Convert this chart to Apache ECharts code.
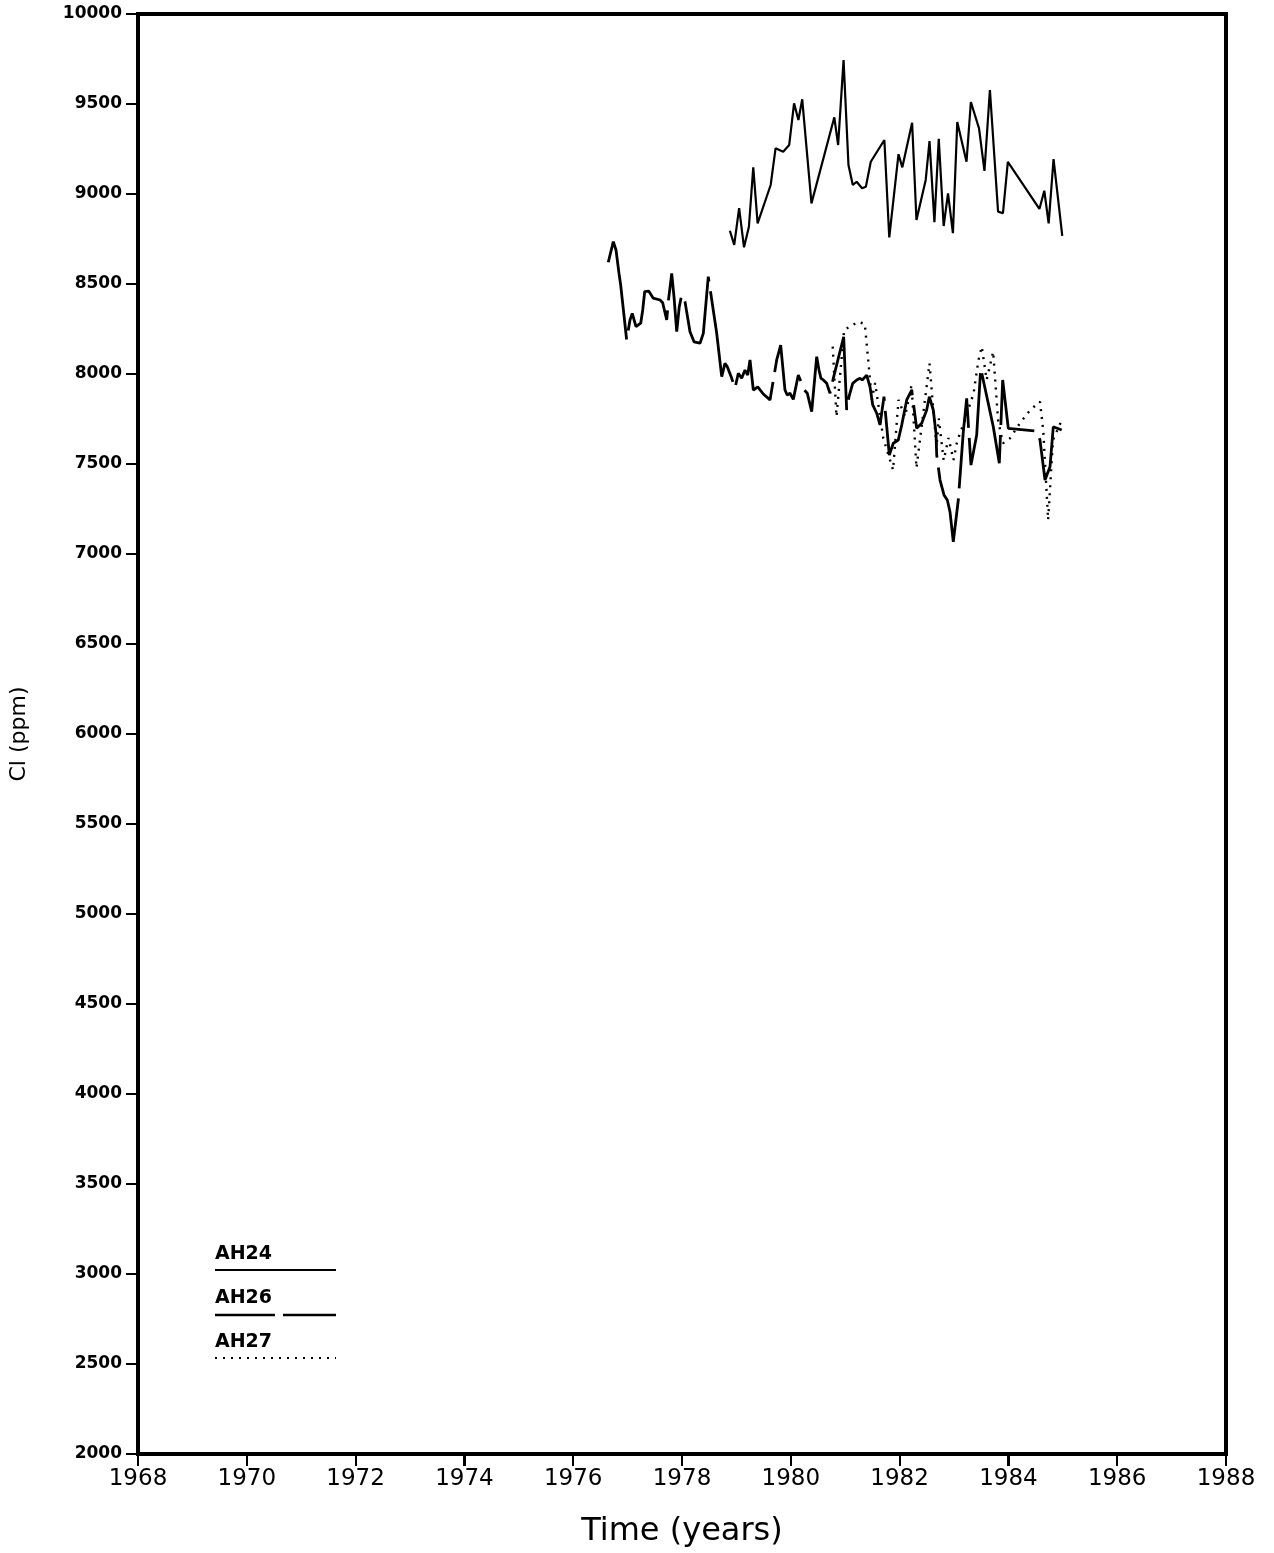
<!DOCTYPE html>
<html>
<head>
<meta charset="utf-8">
<script src="https://cdn.jsdelivr.net/npm/echarts@6/dist/echarts.min.js"></script>
<style>
html,body{margin:0;padding:0;background:#fff;}
#chart{width:1274px;height:1553px;}
</style>
</head>
<body>
<div id="chart"></div>
<script>
// ---- Data ----
const xTicks = [1968,1970,1972,1974,1976,1978,1980,1982,1984,1986,1988];
const yTicks = [2000,2500,3000,3500,4000,4500,5000,5500,6000,6500,7000,7500,8000,8500,9000,9500,10000];

const ah24Years = [1978.88,1978.96,1979.05,1979.14,1979.23,1979.31,1979.39,1979.63,1979.72,1979.86,1979.97,1980.06,1980.14,1980.21,1980.38,1980.80,1980.87,1980.97,1981.06,1981.14,1981.21,1981.31,1981.38,1981.47,1981.72,1981.81,1981.98,1982.05,1982.23,1982.31,1982.48,1982.55,1982.64,1982.72,1982.81,1982.89,1982.98,1983.06,1983.23,1983.31,1983.46,1983.56,1983.66,1983.81,1983.90,1983.99,1984.57,1984.66,1984.74,1984.83,1984.99];
const ah24Values = [8796,8717,8921,8704,8818,9148,8837,9050,9254,9235,9272,9504,9411,9526,8948,9426,9272,9744,9161,9050,9068,9032,9040,9179,9300,8759,9221,9148,9396,8856,9078,9294,8843,9306,8822,9004,8782,9400,9179,9511,9365,9128,9578,8902,8893,9179,8917,9018,8837,9194,8768];

const ah26Years = [1976.645,1976.737,1976.787,1976.842,1976.873,1976.983,1977.044,1977.086,1977.154,1977.241,1977.278,1977.314,1977.388,1977.472,1977.596,1977.645,1977.719,1977.748,1977.811,1977.853,1977.903,1977.950,1977.994,1978.055,1978.147,1978.221,1978.331,1978.392,1978.483,1978.638,1978.730,1978.790,1978.833,1978.914,1978.974,1979.035,1979.097,1979.158,1979.208,1979.250,1979.311,1979.392,1979.494,1979.618,1979.741,1979.814,1979.893,1979.936,1979.985,1980.046,1980.138,1980.200,1980.248,1980.303,1980.384,1980.476,1980.518,1980.555,1980.597,1980.660,1980.721,1980.781,1980.972,1981.027,1981.070,1981.138,1981.211,1981.272,1981.314,1981.395,1981.456,1981.506,1981.579,1981.640,1981.713,1981.811,1981.884,1981.976,1982.039,1982.131,1982.222,1982.314,1982.406,1982.498,1982.546,1982.619,1982.669,1982.682,1982.743,1982.816,1982.877,1982.926,1982.987,1983.079,1983.171,1983.233,1983.312,1983.417,1983.491,1983.722,1983.833,1983.895,1983.998,1984.520,1984.581,1984.673,1984.765,1984.825,1984.980];
const ah26Values = [8621,8735,8689,8559,8494,8189,8300,8337,8263,8282,8356,8457,8461,8421,8411,8396,8300,8402,8559,8429,8235,8374,8439,8402,8235,8179,8171,8226,8541,8226,7985,8059,8040,7976,7921,8004,7976,8022,7994,8078,7911,7929,7889,7856,8078,8161,7911,7883,7893,7859,7994,7948,7911,7893,7791,8096,8022,7976,7967,7948,7893,7976,8207,7800,7874,7948,7967,7976,7967,7994,7929,7828,7782,7717,7874,7550,7615,7633,7717,7856,7911,7698,7726,7800,7874,7800,7671,7550,7411,7328,7300,7235,7068,7300,7679,7865,7494,7661,8032,7707,7504,7967,7698,7683,7633,7411,7485,7707,7689];

const ah27Years = [1980.77,1980.84,1980.98,1981.24,1981.36,1981.42,1981.49,1981.55,1981.70,1981.88,1981.98,1982.10,1982.22,1982.31,1982.55,1982.62,1982.68,1982.72,1982.81,1982.90,1982.99,1983.05,1983.11,1983.20,1983.36,1983.45,1983.51,1983.60,1983.72,1983.81,1983.90,1984.03,1984.21,1984.40,1984.58,1984.64,1984.73,1984.82,1984.98];
const ah27Values = [8152,7763,8244,8290,8278,8087,7856,7950,7643,7467,7856,7763,7939,7478,8059,7800,7596,7754,7520,7645,7522,7615,7671,7744,7893,8078,8152,7967,8124,7744,7615,7643,7726,7800,7846,7689,7189,7633,7744];

const seriesNames = ['AH24','AH26','AH27'];

function pairs(xs, ys){ return xs.map((x,i)=>[x, ys[i]]); }

const chart = echarts.init(document.getElementById('chart'), null, {renderer:'canvas'});

const lineCommon = {type:'line', showSymbol:false, symbol:'none', smooth:false, animation:false};

const legendGraphics = [
  {type:'text', left:215, top:1245, style:{text:seriesNames[0], font:'bold 19px "DejaVu Sans"', fill:'#000'}},
  {type:'line', shape:{x1:215, y1:1270, x2:336, y2:1270}, style:{stroke:'#000', lineWidth:2}},
  {type:'text', left:215, top:1289, style:{text:seriesNames[1], font:'bold 19px "DejaVu Sans"', fill:'#000'}},
  {type:'line', shape:{x1:215, y1:1315, x2:275, y2:1315}, style:{stroke:'#000', lineWidth:2.5}},
  {type:'line', shape:{x1:283, y1:1315, x2:336, y2:1315}, style:{stroke:'#000', lineWidth:2.5}},
  {type:'text', left:215, top:1333, style:{text:seriesNames[2], font:'bold 19px "DejaVu Sans"', fill:'#000'}},
  {type:'line', shape:{x1:215, y1:1358, x2:336, y2:1358}, style:{stroke:'#000', lineWidth:2, lineDash:[2,6]}}
];

chart.setOption({
  backgroundColor:'#ffffff',
  animation:false,
  grid:{left:138, right:48, top:14, bottom:99, show:true, borderColor:'#000', borderWidth:4, backgroundColor:'transparent'},
  xAxis:{
    type:'value', min:1968, max:1988, interval:2,
    name:'Time (years)', nameLocation:'middle', nameGap:62,
    nameTextStyle:{fontFamily:'DejaVu Sans', fontSize:32, color:'#000'},
    axisLine:{show:true, onZero:false, lineStyle:{color:'#000', width:4}},
    axisTick:{show:true, inside:false, length:12, lineStyle:{color:'#000', width:2}},
    axisLabel:{fontFamily:'DejaVu Sans', fontSize:23, color:'#000', margin:14, formatter:v=>String(v)},
    splitLine:{show:false}
  },
  yAxis:{
    type:'value', min:2000, max:10000, interval:500,
    name:'Cl (ppm)', nameLocation:'middle', nameGap:108, nameRotate:90,
    nameTextStyle:{fontFamily:'DejaVu Sans', fontSize:22, color:'#000'},
    axisLine:{show:true, onZero:false, lineStyle:{color:'#000', width:4}},
    axisTick:{show:true, inside:false, length:12, lineStyle:{color:'#000', width:2}},
    axisLabel:{fontFamily:'DejaVu Sans', fontWeight:'bold', fontSize:17, color:'#000', margin:16, formatter:v=>String(v)},
    splitLine:{show:false}
  },
  series:[
    Object.assign({}, lineCommon, {name:seriesNames[0], data:pairs(ah24Years, ah24Values),
      lineStyle:{color:'#000', width:2.2, type:'solid'}}),
    Object.assign({}, lineCommon, {name:seriesNames[1], data:pairs(ah26Years, ah26Values),
      lineStyle:{color:'#000', width:2.8, type:[120,10]}}),
    Object.assign({}, lineCommon, {name:seriesNames[2], data:pairs(ah27Years, ah27Values),
      lineStyle:{color:'#000', width:2.4, type:[2,6]}})
  ],
  graphic:legendGraphics
});

// Explicit tick marks positioned through the axes' own scales
const tickGraphics = [];
xTicks.forEach(t => {
  const p = chart.convertToPixel({xAxisIndex:0, yAxisIndex:0}, [t, 2000]);
  tickGraphics.push({type:'rect', z:100, shape:{x:Math.round(p[0])-1, y:Math.round(p[1])+1, width:2, height:11}, style:{fill:'#000'}});
});
yTicks.forEach(t => {
  const p = chart.convertToPixel({xAxisIndex:0, yAxisIndex:0}, [1968, t]);
  tickGraphics.push({type:'rect', z:100, shape:{x:Math.round(p[0])-12, y:Math.round(p[1])-1, width:11, height:2}, style:{fill:'#000'}});
});
chart.setOption({graphic: legendGraphics.concat(tickGraphics)});
</script>
</body>
</html>
